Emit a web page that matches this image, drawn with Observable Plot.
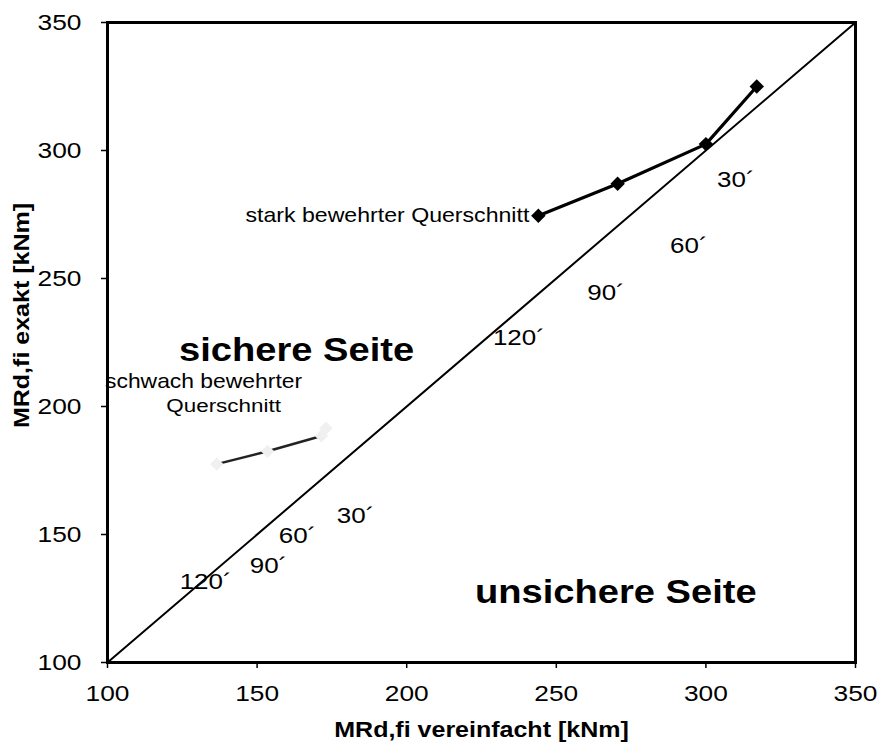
<!DOCTYPE html>
<html>
<head>
<meta charset="utf-8">
<script src="https://cdn.jsdelivr.net/npm/d3@7"></script>
<script src="https://cdn.jsdelivr.net/npm/@observablehq/plot@0.6"></script>
<style>
  html, body { margin: 0; padding: 0; background: #fff; }
  #chart svg { display: block; }
</style>
</head>
<body>
<div id="chart"></div>
<script>
// Bending resistance in fire: simplified method vs. exact calculation [kNm]
const diagonal = [100, 350];

// heavily reinforced cross-section (120', 90', 60', 30')
const strongX = [244, 270.5, 300, 317];
const strongY = [274.5, 287, 302.5, 325];

// lightly reinforced cross-section (120', 90', 60', 30')
const weakX = [136.5, 153.5, 171.5, 173];
const weakY = [177.5, 182.5, 188.5, 191.5];

const ticks = [100, 150, 200, 250, 300, 350];

const minuteLabels = ["30´", "60´", "90´", "120´"];
// label anchors next to the diagonal, upper group and lower group
const upperLabelX = [310, 294.3, 266.6, 237.5];
const upperLabelY = [288.3, 262.9, 244.5, 226.6];
const lowerLabelX = [182.9, 163.5, 153.8, 132.8];
const lowerLabelY = [157.4, 149.6, 137.9, 131.3];

const xLabel = "MRd,fi vereinfacht [kNm]";
const yLabel = "MRd,fi exakt [kNm]";

const font = "'Liberation Sans', Arial, Helvetica, sans-serif";
// the lettering is set a little wide
const textStretch = 1.18;

const strong = strongX.map((x, i) => ({x, y: strongY[i]}));
const weak = weakX.map((x, i) => ({x, y: weakY[i]}));
const diag = diagonal.map(v => ({x: v, y: v}));
const upper = minuteLabels.map((t, i) => ({t, x: upperLabelX[i], y: upperLabelY[i]}));
const lower = minuteLabels.map((t, i) => ({t, x: lowerLabelX[i], y: lowerLabelY[i]}));

const chart = Plot.plot({
  width: 885,
  height: 754,
  marginLeft: 107,
  marginRight: 30,
  marginTop: 22,
  marginBottom: 92,
  style: {fontFamily: font, color: "#000", background: "#fff", overflow: "visible"},
  x: {domain: [100, 350]},
  y: {domain: [100, 350]},
  marks: [
    Plot.axisX({ticks, tickSize: 6, tickPadding: 17, fontSize: 22.3, label: null, strokeWidth: 1.5}),
    Plot.axisY({ticks, tickSize: 6, tickPadding: 20, fontSize: 22.3, label: null, strokeWidth: 1.5}),
    Plot.line(diag, {x: "x", y: "y", stroke: "#000", strokeWidth: 2}),
    Plot.line(weak, {x: "x", y: "y", stroke: "#222", strokeWidth: 2.5}),
    Plot.dot(weak, {x: "x", y: "y", symbol: "diamond2", r: 6, fill: "#f0f0f0", stroke: "none"}),
    Plot.line(strong, {x: "x", y: "y", stroke: "#000", strokeWidth: 3.2}),
    Plot.dot(strong, {x: "x", y: "y", symbol: "diamond2", r: 6.5, fill: "#000", stroke: "none"}),
    Plot.frame({stroke: "#000", strokeWidth: 3}),
    Plot.text([strong[0]], {x: "x", y: "y", text: () => "stark bewehrter Querschnitt",
      textAnchor: "end", dx: -9, fontSize: 19.6}),
    Plot.text(upper, {x: "x", y: "y", text: "t", fontSize: 22}),
    Plot.text(lower, {x: "x", y: "y", text: "t", fontSize: 22}),
    Plot.text(["sichere Seite"], {x: 163.2, y: 221.9, text: d => d, fontSize: 32.3, fontWeight: "bold"}),
    Plot.text(["unsichere Seite"], {x: 269.9, y: 127.3, text: d => d, fontSize: 32.3, fontWeight: "bold"}),
    Plot.text(["schwach bewehrter"], {x: 132.1, y: 209.8, text: d => d, fontSize: 19.4}),
    Plot.text(["Querschnitt"], {x: 138.8, y: 200.4, text: d => d, fontSize: 19}),
    Plot.text([xLabel], {frameAnchor: "bottom", text: d => d, dy: 74, fontSize: 21.2,
      fontWeight: "bold"}),
    Plot.text([yLabel], {frameAnchor: "left", text: d => d, dx: -85, dy: -27, rotate: -90,
      textAnchor: "middle", fontSize: 21.2, fontWeight: "bold"})
  ]
});

// widen every label about its own anchor point
d3.select(chart).selectAll("text").each(function() {
  const x = +this.getAttribute("x") || 0;
  const y = +this.getAttribute("y") || 0;
  const t = this.getAttribute("transform") || "";
  this.setAttribute("transform",
    `${t} translate(${x},${y}) scale(${textStretch},1) translate(${-x},${-y})`);
});

document.getElementById("chart").appendChild(chart);
</script>
</body>
</html>
